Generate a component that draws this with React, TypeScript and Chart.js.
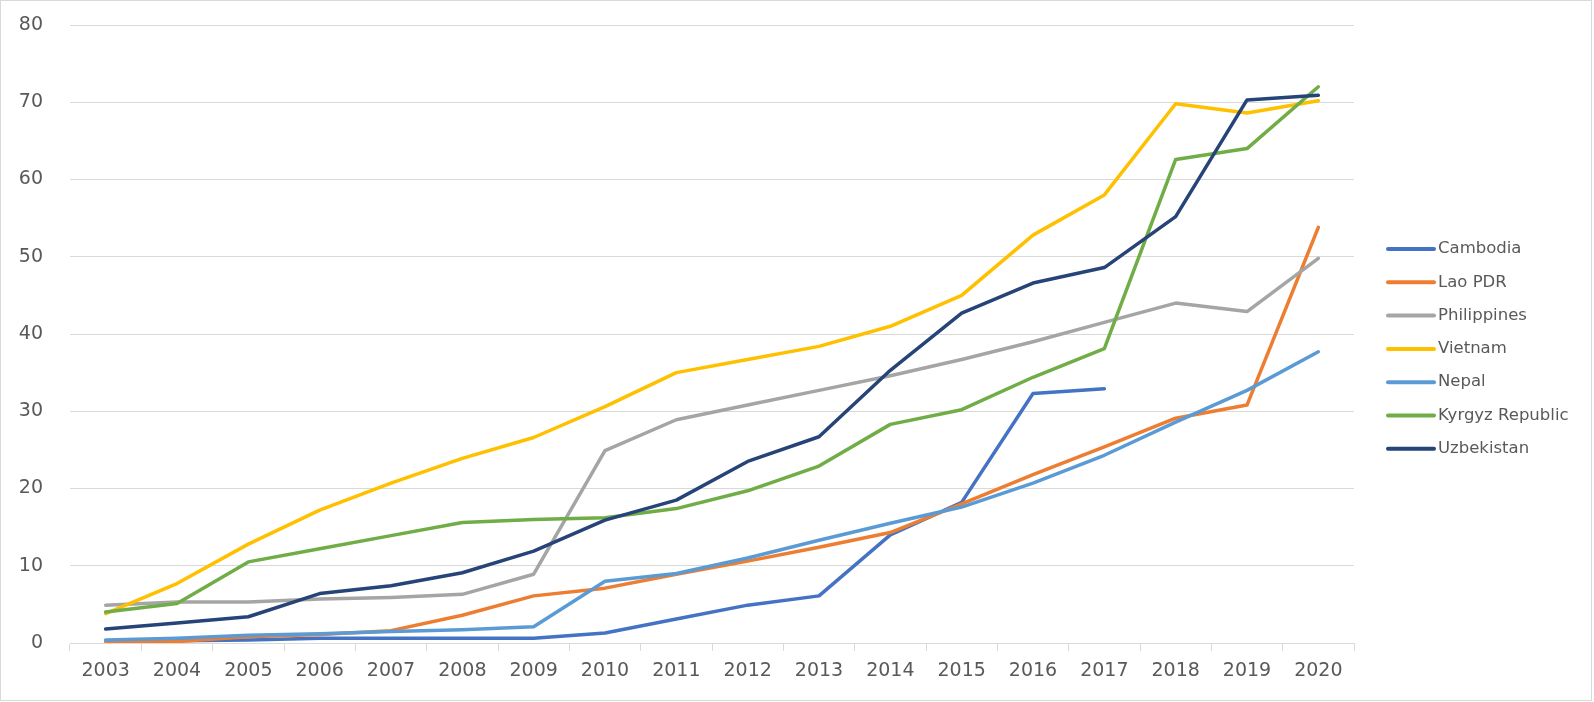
import React, { useEffect, useRef } from "react";
import { Chart, registerables } from "chart.js";

Chart.register(...registerables);

const years = ["2003","2004","2005","2006","2007","2008","2009","2010","2011","2012","2013","2014","2015","2016","2017","2018","2019","2020"];

const cambodia = [0.3, 0.3, 0.4, 0.6, 0.6, 0.6, 0.6, 1.3, 3.1, 4.9, 6.1, 14.0, 18.2, 32.3, 32.9, null, null, null];
const laoPDR = [0.2, 0.2, 0.8, 1.1, 1.6, 3.6, 6.1, 7.1, 8.9, 10.6, 12.4, 14.3, 18.0, 21.8, 25.4, 29.1, 30.8, 53.8];
const philippines = [4.9, 5.3, 5.3, 5.7, 5.9, 6.3, 8.9, 24.9, 28.9, 30.8, 32.7, 34.6, 36.7, 39.0, 41.5, 44.0, 42.9, 49.8];
const vietnam = [3.8, 7.7, 12.8, 17.2, 20.7, 23.9, 26.6, 30.6, 35.0, 36.7, 38.4, 41.0, 45.0, 52.8, 58.0, 69.8, 68.6, 70.2];
const nepal = [0.4, 0.6, 1.0, 1.2, 1.5, 1.7, 2.1, 8.0, 9.0, 11.0, 13.3, 15.5, 17.6, 20.7, 24.3, 28.6, 32.7, 37.7];
const kyrgyz = [4.0, 5.1, 10.5, 12.2, 13.9, 15.6, 16.0, 16.2, 17.4, 19.7, 22.9, 28.3, 30.2, 34.4, 38.1, 62.6, 64.0, 72.0];
const uzbekistan = [1.8, 2.6, 3.4, 6.4, 7.4, 9.1, 11.9, 15.9, 18.5, 23.5, 26.7, 35.3, 42.7, 46.6, 48.6, 55.2, 70.3, 70.9];

const seriesNames = ["Cambodia", "Lao PDR", "Philippines", "Vietnam", "Nepal", "Kyrgyz Republic", "Uzbekistan"];
const seriesValues = [cambodia, laoPDR, philippines, vietnam, nepal, kyrgyz, uzbekistan];
const seriesColors = ["#4472C4", "#ED7D31", "#A5A5A5", "#FFC000", "#5B9BD5", "#70AD47", "#264478"];

const yTicks = [0, 10, 20, 30, 40, 50, 60, 70, 80];

const FONT = "'DejaVu Sans', Verdana, sans-serif";
const TEXT = "#595959";
const GRID = "#d9d9d9";

const legendPlugin = {
  id: "sideLegend",
  afterDraw(chart: any) {
    const ctx = chart.ctx;
    const ds = chart.data.datasets;
    ctx.save();
    ds.forEach((d: any, i: number) => {
      const y = 249 + i * 33.3;
      ctx.strokeStyle = d.borderColor;
      ctx.lineWidth = 4;
      ctx.lineCap = "round";
      ctx.beginPath();
      ctx.moveTo(1388, y);
      ctx.lineTo(1434, y);
      ctx.stroke();
      ctx.fillStyle = TEXT;
      ctx.font = "16.5px " + FONT;
      ctx.textBaseline = "middle";
      ctx.textAlign = "left";
      ctx.fillText(d.label, 1438, y);
    });
    ctx.restore();
  },
};

export default function App() {
  const ref = useRef<HTMLCanvasElement | null>(null);

  useEffect(() => {
    if (!ref.current) return;
    const n = seriesNames.length;
    const chart = new Chart(ref.current, {
      type: "line",
      data: {
        labels: years,
        datasets: seriesNames.map((name, i) => ({
          label: name,
          data: seriesValues[i],
          borderColor: seriesColors[i],
          backgroundColor: seriesColors[i],
          borderWidth: 3.5,
          pointRadius: 0,
          pointHoverRadius: 0,
          tension: 0,
          fill: false,
          spanGaps: false,
          borderJoinStyle: "round" as const,
          borderCapStyle: "round" as const,
          order: n - 1 - i,
        })),
      },
      options: {
        animation: false,
        responsive: false,
        maintainAspectRatio: false,
        layout: { padding: { top: 25, right: 240, left: 0, bottom: 0 } },
        plugins: {
          legend: { display: false },
          tooltip: { enabled: false },
          title: { display: false },
        },
        scales: {
          x: {
            offset: true,
            grid: {
              offset: true,
              drawOnChartArea: false,
              drawTicks: true,
              tickLength: 8,
              color: GRID,
              lineWidth: 1,
            },
            border: { display: true, color: GRID, width: 1 },
            ticks: {
              color: TEXT,
              font: { family: FONT, size: 19 },
              padding: 9,
              maxRotation: 0,
              autoSkip: false,
            },
            afterFit: (s: any) => {
              s.height = 59;
            },
          },
          y: {
            min: 0,
            max: 80,
            afterBuildTicks: (s: any) => {
              s.ticks = yTicks.map((v) => ({ value: v }));
            },
            grid: { color: GRID, lineWidth: 1, drawTicks: false },
            border: { display: false },
            ticks: {
              color: TEXT,
              font: { family: FONT, size: 19 },
              padding: 27,
            },
            afterFit: (s: any) => {
              s.width = 70;
              s.paddingTop = 11;
              s.paddingBottom = 11;
            },
          },
        },
      },
      plugins: [legendPlugin],
    });
    return () => chart.destroy();
  }, []);

  return (
    <div
      style={{
        position: "absolute",
        left: 0,
        top: 0,
        width: 1594,
        height: 702,
        background: "#ffffff",
      }}
    >
      <div
        style={{
          position: "absolute",
          left: 0,
          top: 0,
          width: 1592,
          height: 701,
          border: "1px solid #d9d9d9",
          boxSizing: "border-box",
        }}
      />
      <canvas
        ref={ref}
        width={1594}
        height={702}
        style={{ position: "absolute", left: 0, top: 0, width: 1594, height: 702 }}
      />
    </div>
  );
}
